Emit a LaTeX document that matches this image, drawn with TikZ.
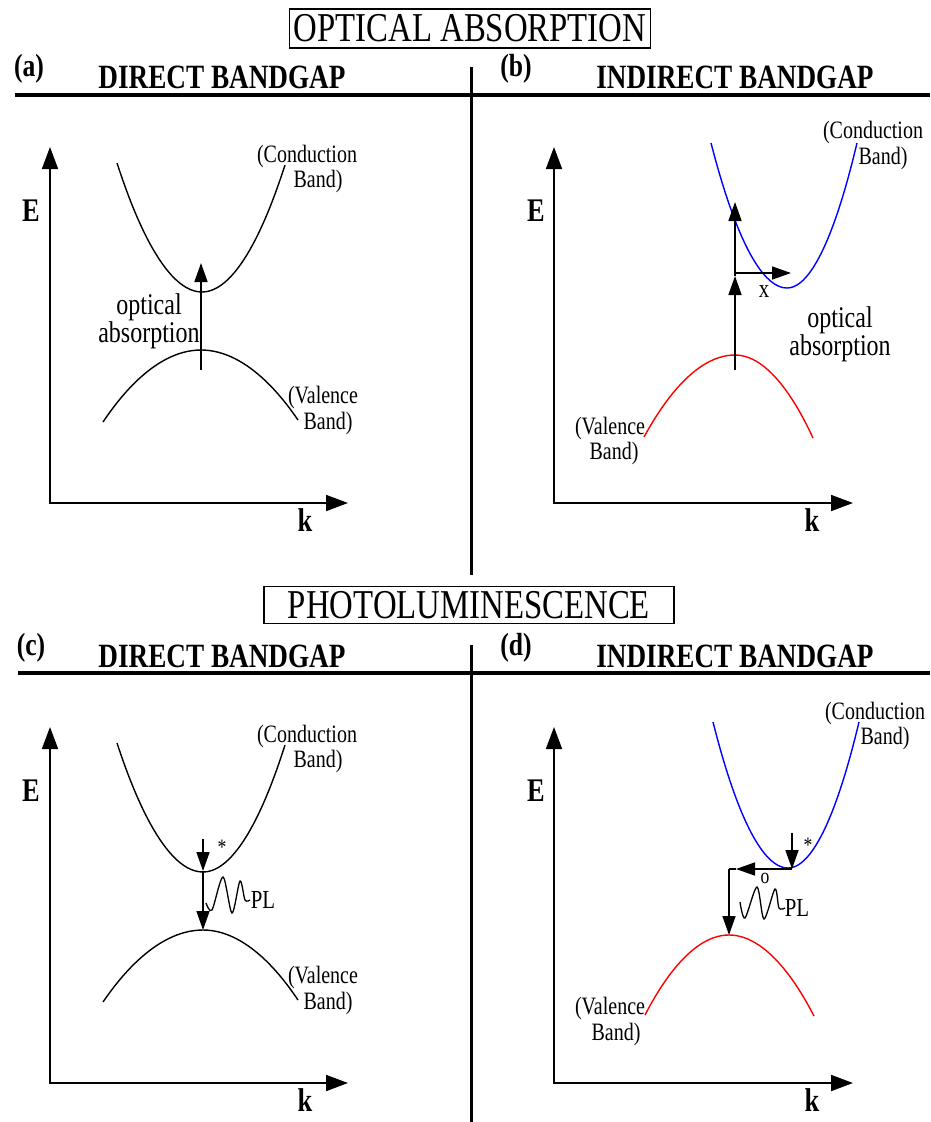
\documentclass[tikz,border=0pt]{standalone}
\usepackage{fontspec}
\setmainfont{Liberation Serif}[FakeStretch=0.8]
\usepackage{xcolor}
\usetikzlibrary{arrows.meta}
\definecolor{bandblue}{RGB}{0,0,255}
\definecolor{bandred}{RGB}{255,0,0}

\begin{document}
\begin{tikzpicture}[x=1pt, y=-1pt,
  axes/.style={line width=1.8pt, {Triangle[length=22pt, width=16pt]}-{Triangle[length=22pt, width=16pt]}},
  arr/.style={line width=1.6pt, -{Triangle[length=19pt, width=13pt]}},
  band/.style={line width=1.4pt},
  rule/.style={line width=4pt},
  divider/.style={line width=3pt},
  title/.style={draw, line width=1.5pt, inner sep=0pt, font=\fontsize{41}{41}\selectfont},
  heading/.style={anchor=base, font=\fontsize{34}{34}\selectfont\bfseries},
  tag/.style={anchor=base, font=\fontsize{32}{32}\selectfont\bfseries},
  axlbl/.style={font=\fontsize{33}{33}\selectfont\bfseries, inner sep=0pt},
  bandlbl/.style={font=\fontsize{25}{25}\selectfont, inner sep=0pt},
  lbl/.style={font=\fontsize{30}{24}\selectfont, align=center, inner sep=0pt},
  plbl/.style={font=\fontsize{26}{26}\selectfont, inner sep=0pt},
  minor/.style={font=\fontsize{22}{22}\selectfont, inner sep=0pt}]
\useasboundingbox (0,0) rectangle (930,1122);

% headings and frame
\node[title, minimum width=361pt, minimum height=39pt] (tabs) at (470,28.5) {OPTICAL ABSORPTION};
\node[title, minimum width=410pt, minimum height=37pt] (tpl) at (469,605) {PHOTOLUMINESCENCE};
\node[tag] (taga) at (29,76) {(a)};
\node[heading] (hda) at (222,88) {DIRECT BANDGAP};
\node[tag] (tagb) at (516,76) {(b)};
\node[heading] (hdb) at (735,88) {INDIRECT BANDGAP};
\node[tag] (tagc) at (31,655) {(c)};
\node[heading] (hdc) at (222,667) {DIRECT BANDGAP};
\node[tag] (tagd) at (516,655) {(d)};
\node[heading] (hdd) at (735,667) {INDIRECT BANDGAP};
\draw[rule] (15,95) -- (930,95);
\draw[rule] (18,673) -- (930,673);
\draw[divider] (471,67) -- (471,575);
\draw[divider] (471,645) -- (471,1122);

% (a) direct, absorption
\coordinate (oa) at (50,503);
\coordinate (ea) at (50,147);
\coordinate (ka) at (348,503);
\draw[axes] (ea) -- (oa) -- (ka);
\node[axlbl] (Ea) at (31,211) {E};
\node[axlbl] (kka) at (305,520) {k};
\draw[band] (117,163) parabola bend (202,292) (285,165);
\draw[band] (103,422) parabola bend (201,350) (298,420);
\coordinate (a0) at (201,370);
\coordinate (a1) at (201,263);
\draw[arr] (a0) -- (a1);
\node[lbl] (absa) at (149,321) {optical\\absorption};
\node[bandlbl] (cba) at (307,156) {(Conduction};
\node[bandlbl] (cba2) at (318,181) {Band)};
\node[bandlbl] (vba) at (323,397) {(Valence};
\node[bandlbl] (vba2) at (328,423) {Band)};

% (b) indirect, absorption
\coordinate (ob) at (554,503);
\coordinate (eb) at (554,147);
\coordinate (kb) at (853,503);
\draw[axes] (eb) -- (ob) -- (kb);
\node[axlbl] (Eb) at (536,211) {E};
\node[axlbl] (kkb) at (812,520) {k};
\draw[band, bandblue] (711,143) parabola bend (787,288) (857,143);
\draw[band, bandred] (644,437) parabola bend (735,355) (813,438);
\coordinate (b0) at (735,370);
\coordinate (b1) at (735,276);
\coordinate (b2) at (735,202);
\coordinate (bk) at (735,273);
\coordinate (bx) at (791,273);
\draw[arr] (b0) -- (b1);
\draw[arr] (b1) -- (b2);
\draw[arr] (bk) -- (bx);
\node[minor, font=\fontsize{26}{26}\selectfont] (phx) at (764,292) {x};
\node[lbl] (absb) at (840,334) {optical\\absorption};
\node[bandlbl] (cbb) at (873,132) {(Conduction};
\node[bandlbl] (cbb2) at (883,158) {Band)};
\node[bandlbl] (vbb) at (610,428) {(Valence};
\node[bandlbl] (vbb2) at (614,453) {Band)};

% (c) direct, photoluminescence
\coordinate (oc) at (50,1083);
\coordinate (ec) at (50,727);
\coordinate (kc) at (348,1083);
\draw[axes] (ec) -- (oc) -- (kc);
\node[axlbl] (Ec) at (31,791) {E};
\node[axlbl] (kkc) at (305,1100) {k};
\draw[band] (117,743) parabola bend (203,872) (285,745);
\draw[band] (103,1002) parabola bend (203,930) (298,1000);
\coordinate (c0) at (203,839);
\coordinate (c1) at (203,871);
\coordinate (c2) at (203,930);
\draw[arr] (c0) -- (c1);
\draw[arr] (c1) -- (c2);
\node[minor] (stc) at (222,847) {*};
\draw[line width=1.3pt] plot[smooth, tension=0.5] coordinates {(206,903) (212,910) (223,877) (232,913) (240,881) (245,900) (250,900)};
\node[plbl] (plc) at (263,900) {PL};
\node[bandlbl] (cbc) at (307,736) {(Conduction};
\node[bandlbl] (cbc2) at (318,761) {Band)};
\node[bandlbl] (vbc) at (323,977) {(Valence};
\node[bandlbl] (vbc2) at (328,1003) {Band)};

% (d) indirect, photoluminescence
\coordinate (od) at (554,1083);
\coordinate (ed) at (554,727);
\coordinate (kd) at (853,1083);
\draw[axes] (ed) -- (od) -- (kd);
\node[axlbl] (Ed) at (536,791) {E};
\node[axlbl] (kkd) at (812,1100) {k};
\draw[band, bandblue] (713,722) parabola bend (788,868) (859,722);
\draw[band, bandred] (645,1015) parabola bend (729,935) (814,1016);
\coordinate (d0) at (792,833);
\coordinate (d1) at (792,869);
\coordinate (d2) at (736,869);
\coordinate (d3) at (729,869);
\coordinate (d4) at (729,935);
\draw[arr] (d0) -- (d1);
\draw[arr] (d1) -- (d2);
\draw[line width=1.6pt] (d2) -- (d3);
\draw[arr] (d3) -- (d4);
\node[minor] (std) at (808,845) {*};
\node[minor] (pho) at (765,878) {o};
\draw[line width=1.3pt] plot[smooth, tension=0.5] coordinates {(740,902) (745,918) (757,887) (764,919) (775,889) (779,908) (785,908)};
\node[plbl] (pld) at (797,908) {PL};
\node[bandlbl] (cbd) at (875,713) {(Conduction};
\node[bandlbl] (cbd2) at (885,738) {Band)};
\node[bandlbl] (vbd) at (610,1008) {(Valence};
\node[bandlbl] (vbd2) at (616,1034) {Band)};
\end{tikzpicture}
\end{document}
